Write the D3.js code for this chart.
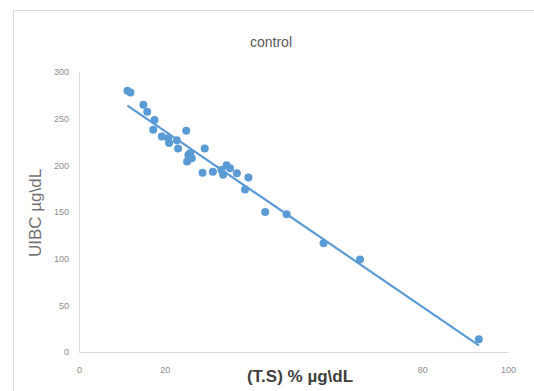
<!DOCTYPE html>
<html>
<head>
<meta charset="utf-8">
<script src="https://cdn.jsdelivr.net/npm/d3@7"></script>
<style>
  body { margin: 0; background: #fff; }
  text { font-family: "Liberation Sans", Arial, sans-serif; }
</style>
</head>
<body>
<div id="chart"></div>
<script>
// data
const tsValues = [11.3, 12.0, 15.0, 15.9, 17.6, 17.3, 19.3, 20.8, 21.0, 22.8, 23.1, 25.0, 25.5, 25.2, 26.3, 25.9,
  29.3, 28.8, 31.2, 33.6, 34.4, 35.2, 33.2, 36.8, 39.5, 38.7, 43.4, 48.4, 57.0, 65.5, 93.2];
const uibcValues = [280, 278, 265, 257.5, 248.6, 238, 231, 229, 224, 227, 218, 237, 211, 204, 207.5, 213,
  218, 192, 193, 190, 200, 197, 195, 191.5, 187, 174, 150, 147.5, 116.5, 99, 13.6];
// 40 and 60 sit under the axis title in the picture, so only these show
const xTicks = [0, 20, 80, 100];
const yTicks = [0, 50, 100, 150, 200, 250, 300];

let width = 534,
  height = 391;

let svg = d3.select("#chart")
  .append("svg")
  .attr("width", width)
  .attr("height", height);

// chart area border
svg.append("rect")
  .attr("x", 13.5).attr("y", 10.5)
  .attr("width", 540).attr("height", 400)
  .attr("fill", "#fff")
  .attr("stroke", "#d9d9d9");

let x = d3.scaleLinear().domain([0, 100]).range([79, 508]);
let y = d3.scaleLinear().domain([0, 300]).range([352, 72]);

let points = tsValues.map((v, i) => ({ x: v, y: uibcValues[i] }));

// axes
let xAxis = svg.append("g")
  .attr("transform", `translate(0,${y(0)})`)
  .call(d3.axisBottom(x).tickValues(xTicks).tickSize(0).tickPadding(15));
let yAxis = svg.append("g")
  .attr("transform", `translate(${x(0)},0)`)
  .call(d3.axisLeft(y).tickValues(yTicks).tickSize(0).tickPadding(10));

[xAxis, yAxis].forEach(a => {
  a.select(".domain").attr("stroke", "#d9d9d9");
  a.selectAll("text").attr("fill", "#8c8c8c").style("font-size", "9px");
});

// least squares trend line
let mx = d3.mean(points, d => d.x),
  my = d3.mean(points, d => d.y);
let slope = d3.sum(points, d => (d.x - mx) * (d.y - my)) / d3.sum(points, d => (d.x - mx) ** 2);
let icpt = my - slope * mx;
let [x0, x1] = d3.extent(points, d => d.x);

svg.append("line")
  .attr("x1", x(x0)).attr("y1", y(icpt + slope * x0))
  .attr("x2", x(x1)).attr("y2", y(icpt + slope * x1))
  .attr("stroke", "#5b9bd5")
  .attr("stroke-width", 2.2);

svg.append("g")
  .selectAll("circle")
  .data(points)
  .join("circle")
  .attr("cx", d => x(d.x))
  .attr("cy", d => y(d.y))
  .attr("r", 4)
  .attr("fill", "#5b9bd5");

// title
svg.append("text")
  .attr("x", 271).attr("y", 47)
  .attr("text-anchor", "middle")
  .attr("fill", "#595959")
  .style("font-size", "14px")
  .text("control");

// x axis title
svg.append("text")
  .attr("x", 300).attr("y", 382)
  .attr("text-anchor", "middle")
  .attr("fill", "#404040")
  .style("font-weight", "bold")
  .style("font-size", "17px")
  .text("(T.S) % µg\\dL");

// y axis title
svg.append("text")
  .attr("transform", "translate(41,213) rotate(-90)")
  .attr("text-anchor", "middle")
  .attr("fill", "#737373")
  .style("font-size", "17px")
  .text("UIBC µg\\dL");
</script>
</body>
</html>
